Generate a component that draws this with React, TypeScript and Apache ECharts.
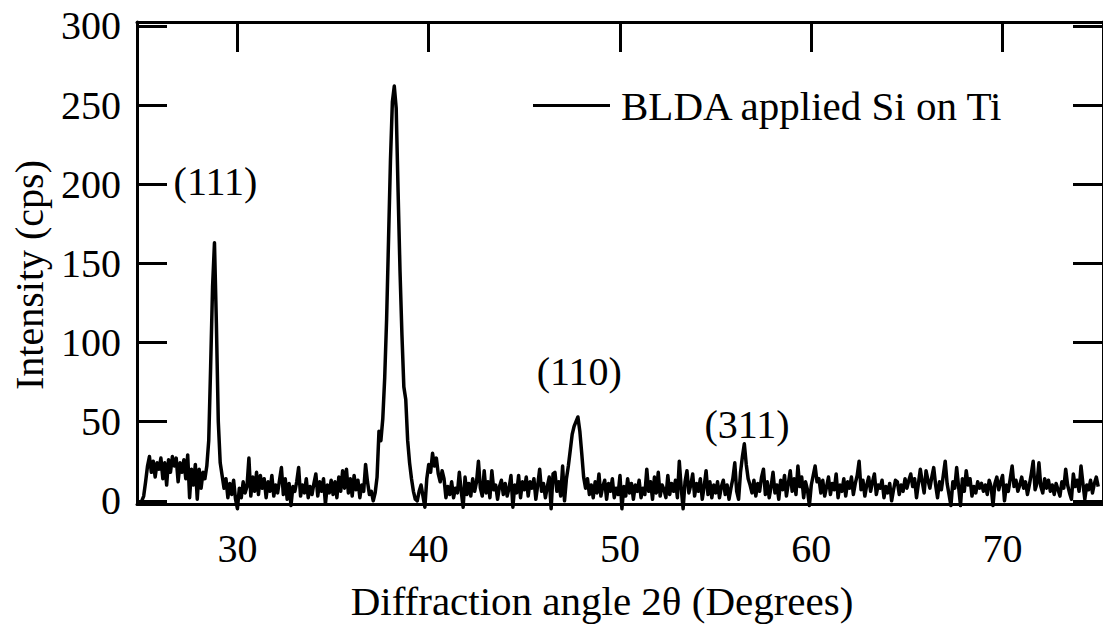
import React, { useEffect, useRef } from "react";
import * as echarts from "echarts";

// 2θ scan: 25.0° → 75.0°, step 0.1°
const ANGLE_START = 25;
const ANGLE_STEP = 0.1;

const seg25to30 = [
  0, 3, 12, 22, 28, 18, 25, 15, 24, 20,
  27, 14, 24, 10, 26, 18, 28, 22, 27, 12,
  24, 18, 26, 14, 29, 2, 20, 10, 23, 1,
  20, 8, 18, 14, 22, 38, 85, 135, 163, 112,
  50, 24, 16, 8, 14, 2, 11, 4, 13, 1,
];
const seg30to35 = [
  -5, 8, 2, 12, 5, 9, 27, 3, 15, 6,
  18, 4, 16, 8, 14, 2, 12, 6, 16, 3,
  10, 5, 13, 21, 4, 14, 1, 11, -3, 9,
  6, 12, 21, 3, 10, 5, 14, 2, 9, 4,
  11, 17, 3, 12, 6, 14, -2, 10, 5, 13,
];
const seg35to40 = [
  4, 12, 2, 15, 6, 19, 8, 20, 5, 14,
  3, 16, 7, 13, 2, 10, 6, 23, 12, 4,
  6, 0, 5, 15, 44, 38, 52, 78, 115, 165,
  215, 252, 262, 248, 195, 145, 105, 72, 64, 38,
  24, 14, 6, 1, 0, 6, 10, 3, -4, 14,
];
const seg40to45 = [
  23, 18, 30, 22, 27, 17, 12, 19, 14, 2,
  9, 4, 12, 2, 8, 5, 18, 6, -4, 15,
  4, 11, 3, 14, 6, 12, 25, 8, 3, 19,
  5, 12, 2, 19, 7, 10, 1, 9, 13, 4,
  11, 3, 8, 16, -4, 10, 5, 16, 2, 12,
];
const seg45to50 = [
  7, 15, 3, 12, 8, 14, 1, 10, 20, 6,
  11, 2, 9, 15, -5, 17, 18, 6, 12, 3,
  22, 0, 14, 22, 32, 42, 47, 50, 53, 44,
  30, 15, 8, 14, 4, 10, 2, 12, 5, 17,
  3, 9, 13, 1, 11, 6, 14, 2, 8, 4,
];
const seg50to55 = [
  16, -5, 9, 3, 14, 5, 11, 1, 10, 6,
  13, 2, 8, 4, 20, 6, 12, 1, 15, 5,
  18, 3, 10, 7, 2, 16, 4, 11, 6, 13,
  2, 25, 8, -5, 12, 19, 5, 10, 17, 3,
  11, 6, 14, 1, 9, 19, 4, 12, 2, 10,
];
const seg55to60 = [
  5, 12, 2, 9, 13, 4, 10, 1, 8, 14,
  24, 6, 1, 18, 28, 36, 23, 14, 10, 5,
  13, 3, 11, 6, 15, 20, 4, 12, 2, 9,
  18, 5, 10, 1, 13, 7, 16, 3, 11, 19,
  6, 14, 4, 22, 9, 15, 2, 12, 7, -3,
];
const seg60to65 = [
  10, 16, 22, 12, 14, 5, 13, 3, 9, 15,
  4, 11, 7, 17, 2, 10, 6, 14, 3, 12,
  8, 15, 4, 11, 16, 25, 7, 13, 3, 10,
  15, 6, 12, 17, 4, 10, 8, 13, 2, 9,
  5, 11, 0, 7, 13, 12, 4, 10, 6, 14,
];
const seg65to70 = [
  8, 13, 17, 9, 14, 2, 11, 20, 12, 5,
  19, 13, 8, 15, 21, 10, 2, 12, 7, 16,
  25, 11, 4, -3, 12, 8, 21, 9, -3, 14,
  6, 19, 10, 14, 3, 9, 5, 12, 8, 11,
  6, 10, 4, 13, 9, -3, 11, 15, 7, 12,
];
const seg70to75 = [
  16, 0, 10, 6, 14, 22, 9, 13, 6, 10,
  15, 8, 12, 4, 10, 17, 25, 7, 11, 24,
  9, 5, 14, 8, 13, 6, 10, 4, 11, 7,
  3, 12, 8, 20, 10, 5, 1, 17, 9, 13,
  6, 22, 11, 1, 10, 7, 13, 5, 11, 15,
  9,
];

const xTicks = [30, 40, 50, 60, 70];
const yTicks = [0, 50, 100, 150, 200, 250, 300];

const peakLabels = ["(111)", "(110)", "(311)"];
const peakLabelX = [28.85, 47.87, 56.64];
const peakLabelY = [202, 82, 48];

const seriesName = "BLDA applied Si on Ti";
const xTitle = "Diffraction angle 2θ (Degrees)";
const yTitle = "Intensity (cps)";

const FONT = "'Liberation Serif', 'Times New Roman', serif";

export default function App() {
  const ref = useRef<HTMLDivElement>(null);

  useEffect(() => {
    document.body.style.margin = "0";
    if (!ref.current) return;
    const chart = echarts.init(ref.current, null, { renderer: "svg" });

    const intensity = [
      ...seg25to30, ...seg30to35, ...seg35to40, ...seg40to45, ...seg45to50,
      ...seg50to55, ...seg55to60, ...seg60to65, ...seg65to70, ...seg70to75,
    ];
    const data = intensity.map((v, i) => [
      Math.round((ANGLE_START + i * ANGLE_STEP) * 10) / 10,
      v,
    ]);

    const axisLine = { show: true, onZero: false, lineStyle: { color: "#000", width: 3 } };
    const tickStyle = { color: "#000", width: 3 };

    chart.setOption({
      animation: false,
      backgroundColor: "#fff",
      textStyle: { fontFamily: FONT, color: "#000" },
      grid: { left: 137, top: 22, width: 970, height: 488.5, containLabel: false },
      legend: {
        show: true,
        left: 528,
        top: 80,
        itemWidth: 77,
        itemHeight: 14,
        itemStyle: { color: "#000" },
        textStyle: { fontFamily: FONT, fontSize: 41, color: "#000", padding: [0, 0, 0, 6] },
        data: [{ name: seriesName, icon: "path://M0,5.5 L77,5.5 L77,8.5 L0,8.5 Z" }],
      },
      xAxis: [
        {
          type: "value",
          position: "bottom",
          min: 24.75,
          max: 75.25,
          axisLine,
          axisTick: { show: false },
          splitLine: { show: false },
          axisLabel: {
            customValues: xTicks,
            fontFamily: FONT,
            fontSize: 40,
            color: "#000",
            margin: 24,
          },
          name: xTitle,
          nameLocation: "middle",
          nameGap: 76,
          nameTextStyle: { fontFamily: FONT, fontSize: 41, color: "#000", padding: [0, 36, 0, 0] },
        },
        {
          type: "value",
          position: "top",
          min: 24.75,
          max: 75.25,
          axisLine,
          axisTick: { show: true, inside: true, length: 30, lineStyle: tickStyle, customValues: xTicks },
          axisLabel: { show: false },
          splitLine: { show: false },
        },
      ],
      yAxis: [
        {
          type: "value",
          position: "left",
          min: -2,
          max: 302.5,
          axisLine,
          axisTick: { show: true, inside: true, length: 30, lineStyle: tickStyle, customValues: yTicks },
          splitLine: { show: false },
          axisLabel: {
            customValues: yTicks,
            fontFamily: FONT,
            fontSize: 40,
            color: "#000",
            margin: 16,
          },
          name: yTitle,
          nameLocation: "middle",
          nameGap: 88,
          nameRotate: 90,
          nameTextStyle: { fontFamily: FONT, fontSize: 40, color: "#000", padding: [0, 24, 0, 0] },
        },
        {
          type: "value",
          position: "right",
          min: -2,
          max: 302.5,
          axisLine,
          axisTick: { show: true, inside: true, length: 30, lineStyle: tickStyle, customValues: yTicks },
          axisLabel: { show: false },
          splitLine: { show: false },
        },
      ],
      series: [
        {
          name: seriesName,
          type: "line",
          xAxisIndex: 0,
          yAxisIndex: 0,
          data,
          symbol: "none",
          showSymbol: false,
          clip: false,
          lineStyle: { color: "#000", width: 3.5, join: "round" },
          itemStyle: { color: "#000" },
          markPoint: {
            silent: true,
            symbol: "rect",
            symbolSize: 1,
            itemStyle: { color: "rgba(0,0,0,0)" },
            label: {
              show: true,
              position: "inside",
              formatter: "{b}",
              fontFamily: FONT,
              fontSize: 40,
              color: "#000",
            },
            data: peakLabels.map((name, i) => ({
              name,
              coord: [peakLabelX[i], peakLabelY[i]],
            })),
          },
        },
      ],
    });

    return () => chart.dispose();
  }, []);

  return (
    <div
      ref={ref}
      style={{ position: "absolute", left: 0, top: 0, width: 1103, height: 626 }}
    />
  );
}
